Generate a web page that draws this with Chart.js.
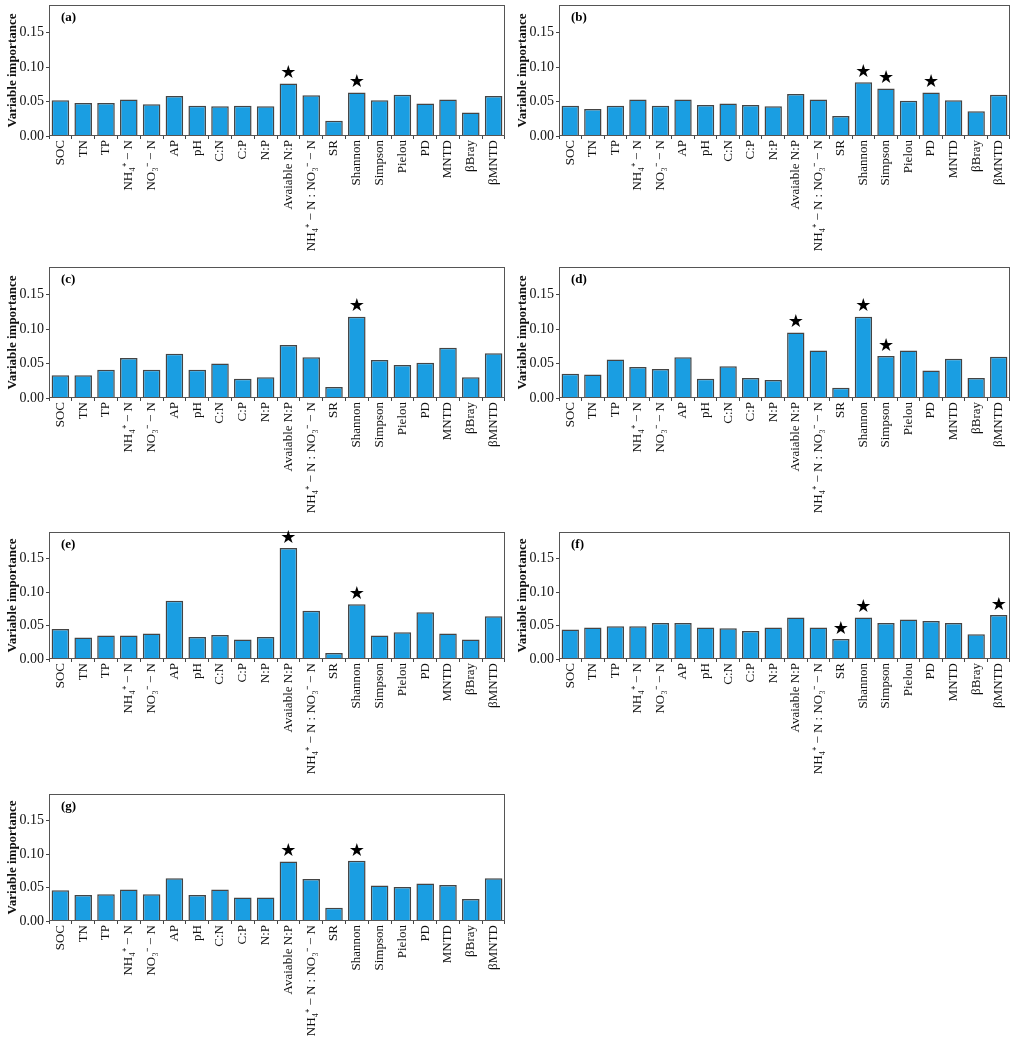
<!DOCTYPE html>
<html>
<head>
<meta charset="utf-8">
<script src="https://cdn.jsdelivr.net/npm/chart.js@4.4.1/dist/chart.umd.min.js"></script>
<style>
  body { margin: 0; background: #fff; width: 1021px; height: 1050px; position: relative; overflow: hidden; }
  canvas { position: absolute; }
</style>
</head>
<body>
<canvas id="pa" width="510" height="262" style="left:0;top:0"></canvas>
<canvas id="pb" width="511" height="262" style="left:510px;top:0"></canvas>
<canvas id="pc" width="510" height="262" style="left:0;top:262px"></canvas>
<canvas id="pd" width="511" height="262" style="left:510px;top:262px"></canvas>
<canvas id="pe" width="510" height="262" style="left:0;top:527px"></canvas>
<canvas id="pf" width="511" height="262" style="left:510px;top:527px"></canvas>
<canvas id="pg" width="510" height="262" style="left:0;top:790px"></canvas>
<script>
// categories shared by every panel
const categories = ['SOC', 'TN', 'TP', 'NH₄⁺ − N', 'NO₃⁻ − N', 'AP', 'pH', 'C:N', 'C:P', 'N:P',
    'Avaiable N:P', 'NH₄⁺ − N : NO₃⁻ − N', 'SR', 'Shannon', 'Simpson', 'Pielou', 'PD', 'MNTD', 'βBray', 'βMNTD'];
const yTicks = [0, 0.05, 0.10, 0.15];
const yMax = 0.19;

// variable importance per panel
const valuesA = [0.052, 0.048, 0.048, 0.053, 0.046, 0.058, 0.044, 0.043, 0.044, 0.043, 0.076, 0.059, 0.022, 0.063, 0.052, 0.060, 0.047, 0.053, 0.034, 0.058];
const valuesB = [0.044, 0.039, 0.044, 0.053, 0.044, 0.053, 0.045, 0.047, 0.045, 0.043, 0.061, 0.053, 0.029, 0.078, 0.069, 0.051, 0.063, 0.052, 0.036, 0.060];
const valuesC = [0.033, 0.033, 0.041, 0.058, 0.041, 0.064, 0.041, 0.050, 0.028, 0.030, 0.077, 0.059, 0.016, 0.118, 0.055, 0.048, 0.051, 0.073, 0.030, 0.065];
const valuesD = [0.035, 0.034, 0.056, 0.045, 0.042, 0.059, 0.028, 0.046, 0.029, 0.026, 0.095, 0.069, 0.015, 0.118, 0.061, 0.069, 0.040, 0.057, 0.029, 0.060];
const valuesE = [0.045, 0.032, 0.035, 0.035, 0.038, 0.087, 0.033, 0.036, 0.029, 0.033, 0.166, 0.072, 0.009, 0.082, 0.035, 0.040, 0.070, 0.038, 0.029, 0.064];
const valuesF = [0.044, 0.047, 0.049, 0.049, 0.054, 0.054, 0.047, 0.046, 0.042, 0.047, 0.062, 0.047, 0.030, 0.062, 0.054, 0.059, 0.057, 0.054, 0.037, 0.066];
const valuesG = [0.046, 0.039, 0.040, 0.047, 0.040, 0.064, 0.039, 0.047, 0.035, 0.035, 0.089, 0.063, 0.020, 0.090, 0.053, 0.051, 0.056, 0.054, 0.033, 0.064];

// indices of bars marked with a star
const starsA = [10, 13];
const starsB = [13, 14, 16];
const starsC = [13];
const starsD = [10, 13, 14];
const starsE = [10, 13];
const starsF = [12, 13, 19];
const starsG = [10, 13];

const panelLetters = ['(a)', '(b)', '(c)', '(d)', '(e)', '(f)', '(g)'];

const serif = "'Liberation Serif', 'Times New Roman', serif";

// frame, panel letter and stars
const decorPlugin = {
    id: 'decor',
    afterDatasetsDraw(chart, args, opts) {
        const { ctx, chartArea: a } = chart;
        ctx.save();
        ctx.strokeStyle = '#555';
        ctx.lineWidth = 1;
        ctx.strokeRect(a.left + 0.5, a.top + 0.5, a.right - a.left - 1, a.bottom - a.top - 1);

        ctx.fillStyle = '#000';
        ctx.font = 'bold 13px ' + serif;
        ctx.textBaseline = 'top';
        ctx.textAlign = 'left';
        ctx.fillText(opts.letter, a.left + 12, a.top + 6);

        const meta = chart.getDatasetMeta(0);
        ctx.font = '18px "DejaVu Sans"';
        ctx.textAlign = 'center';
        ctx.textBaseline = 'bottom';
        opts.stars.forEach(i => {
            const bar = meta.data[i];
            ctx.fillText('★', bar.x, bar.y - 1);
        });
        ctx.restore();
    }
};

function createPanel(canvasId, values, stars, letter, padTop, plotH, padRight) {
    const canvas = document.getElementById(canvasId);
    const xHeight = canvas.height - padTop - plotH;
    return new Chart(canvas.getContext('2d'), {
        type: 'bar',
        data: {
            labels: categories,
            datasets: [{
                data: values,
                backgroundColor: '#1a9ee2',
                borderColor: '#444',
                borderWidth: 1.5,
                barPercentage: 0.77,
                categoryPercentage: 1
            }]
        },
        options: {
            responsive: false,
            animation: false,
            layout: { padding: { top: padTop, right: padRight, left: 0, bottom: 0 } },
            plugins: {
                legend: { display: false },
                tooltip: { enabled: false },
                decor: { stars: stars, letter: letter }
            },
            scales: {
                x: {
                    grid: { drawOnChartArea: false, drawTicks: true, tickLength: 3, color: '#444' },
                    border: { display: false },
                    ticks: {
                        autoSkip: false, maxRotation: 90, minRotation: 90, padding: 1,
                        color: '#111', font: { family: serif, size: 13 }
                    },
                    afterFit: scale => {
                        scale.height = xHeight;
                        scale.paddingLeft = 0;
                        scale.paddingRight = 0;
                    }
                },
                y: {
                    min: 0,
                    max: yMax,
                    afterBuildTicks: scale => { scale.ticks = yTicks.map(v => ({ value: v })); },
                    grid: { drawOnChartArea: false, drawTicks: true, tickLength: 3, color: '#444' },
                    border: { display: false },
                    ticks: {
                        padding: 2, color: '#111',
                        font: { family: serif, size: 14 },
                        callback: value => value.toFixed(2)
                    },
                    title: {
                        display: true, text: 'Variable importance', color: '#111',
                        padding: { top: 5, bottom: 0 },
                        font: { family: serif, size: 13, weight: 'bold' }
                    },
                    afterFit: scale => {
                        scale.width = 49;
                        scale.paddingTop = 0;
                        scale.paddingBottom = 0;
                    }
                }
            }
        },
        plugins: [decorPlugin]
    });
}

createPanel('pa', valuesA, starsA, panelLetters[0], 5, 131, 5);
createPanel('pb', valuesB, starsB, panelLetters[1], 5, 131, 11);
createPanel('pc', valuesC, starsC, panelLetters[2], 5, 131, 5);
createPanel('pd', valuesD, starsD, panelLetters[3], 5, 131, 11);
createPanel('pe', valuesE, starsE, panelLetters[4], 5, 127, 5);
createPanel('pf', valuesF, starsF, panelLetters[5], 5, 127, 11);
createPanel('pg', valuesG, starsG, panelLetters[6], 4, 127, 5);
</script>
</body>
</html>
